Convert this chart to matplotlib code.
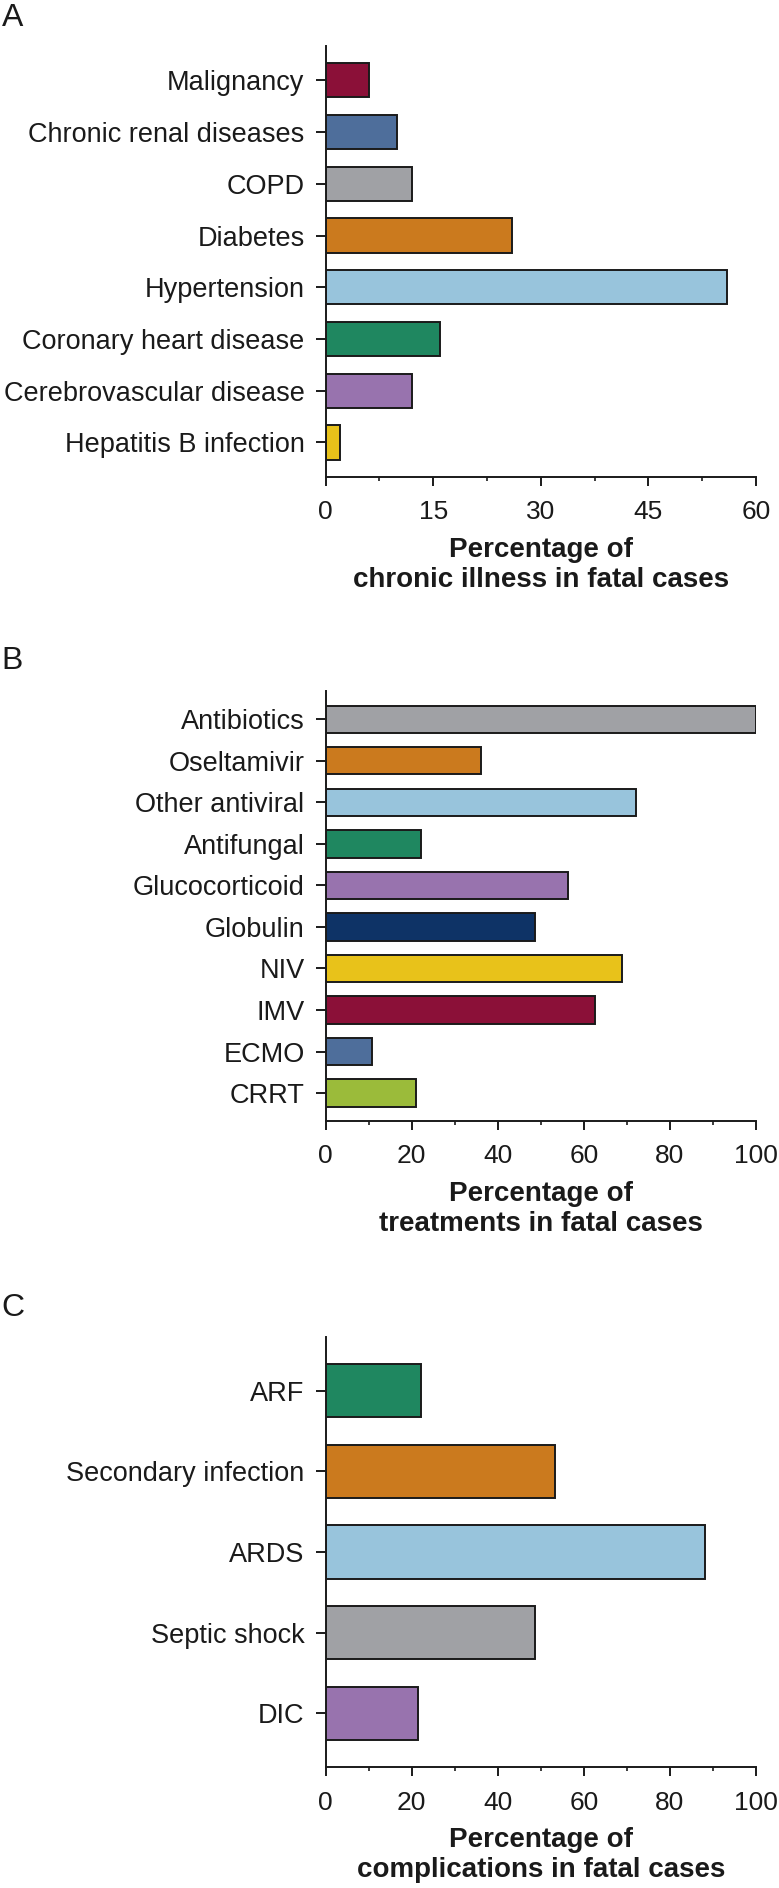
import matplotlib
matplotlib.use("Agg")
import matplotlib.pyplot as plt
from matplotlib.ticker import MultipleLocator

plt.rcParams['font.family'] = ['Liberation Sans', 'DejaVu Sans']

# panel A - chronic illness
illness = ['Malignancy', 'Chronic renal diseases', 'COPD', 'Diabetes', 'Hypertension',
           'Coronary heart disease', 'Cerebrovascular disease', 'Hepatitis B infection']
illness_pct = [6, 10, 12, 26, 56, 16, 12, 2]
illness_col = ['#8b1038', '#4e6e9b', '#a0a1a5', '#cb7a1e', '#98c4dc', '#1f8760', '#9873ae', '#e8c21a']

# panel B - treatments
treat = ['Antibiotics', 'Oseltamivir', 'Other antiviral', 'Antifungal', 'Glucocorticoid',
         'Globulin', 'NIV', 'IMV', 'ECMO', 'CRRT']
treat_pct = [100, 36.1, 72.2, 22.2, 56.2, 48.6, 68.8, 62.5, 10.8, 21.1]
treat_col = ['#a0a1a5', '#cb7a1e', '#98c4dc', '#1f8760', '#9873ae', '#0e3366', '#e8c21a',
             '#8b1038', '#4e6e9b', '#9bbb3a']

# panel C - complications
compl = ['ARF', 'Secondary infection', 'ARDS', 'Septic shock', 'DIC']
compl_pct = [22.2, 53.3, 88.2, 48.6, 21.4]
compl_col = ['#1f8760', '#cb7a1e', '#98c4dc', '#a0a1a5', '#9873ae']

fig = plt.figure(figsize=(7.79, 18.88), dpi=100)

# (letter, cats, vals, colours, xmax, major, minor, xlabel, axes rect, letter y)
panels = [
    ('A', illness, illness_pct, illness_col, 60, 15, 7.5,
     'Percentage of\nchronic illness in fatal cases', [0.418, 0.7473, 0.5525, 0.2285], 0.9907),
    ('B', treat, treat_pct, treat_col, 100, 20, 10,
     'Percentage of\ntreatments in fatal cases', [0.418, 0.4063, 0.5525, 0.2275], 0.6500),
    ('C', compl, compl_pct, compl_col, 100, 20, 10,
     'Percentage of\ncomplications in fatal cases', [0.418, 0.0639, 0.5525, 0.2281], 0.3072),
]

ink = '#1a1a1a'
for letter, cats, vals, cols, xmax, major, minor, xlabel, rect, ly in panels:
    ax = fig.add_axes(rect)
    y = list(range(len(cats)))
    ax.barh(y, vals, height=0.66, color=cols, edgecolor=ink, linewidth=1.4)
    ax.set_yticks(y)
    ax.set_yticklabels(cats, fontsize=19.5, color=ink)
    ax.set_ylim(len(cats) - 1 + 0.67, -0.67)
    ax.set_xlim(0, xmax)
    ax.xaxis.set_major_locator(MultipleLocator(major))
    ax.xaxis.set_minor_locator(MultipleLocator(minor))
    ax.tick_params(axis='x', which='major', length=6.2, width=1.4, labelsize=19,
                   pad=10.5, colors=ink)
    ax.tick_params(axis='x', which='minor', length=3.1, width=1.2, colors=ink)
    ax.tick_params(axis='y', length=7.2, width=1.4, pad=8, colors=ink)
    for s in ['top', 'right']:
        ax.spines[s].set_visible(False)
    for s in ['left', 'bottom']:
        ax.spines[s].set_linewidth(1.4)
        ax.spines[s].set_color(ink)
    ax.set_xlabel(xlabel, fontsize=20, fontweight='bold', labelpad=9, linespacing=1.2,
                  color=ink)
    fig.text(0.002, ly, letter, fontsize=23, va='center', ha='left', color=ink)

fig.savefig('out.png', dpi=100)
